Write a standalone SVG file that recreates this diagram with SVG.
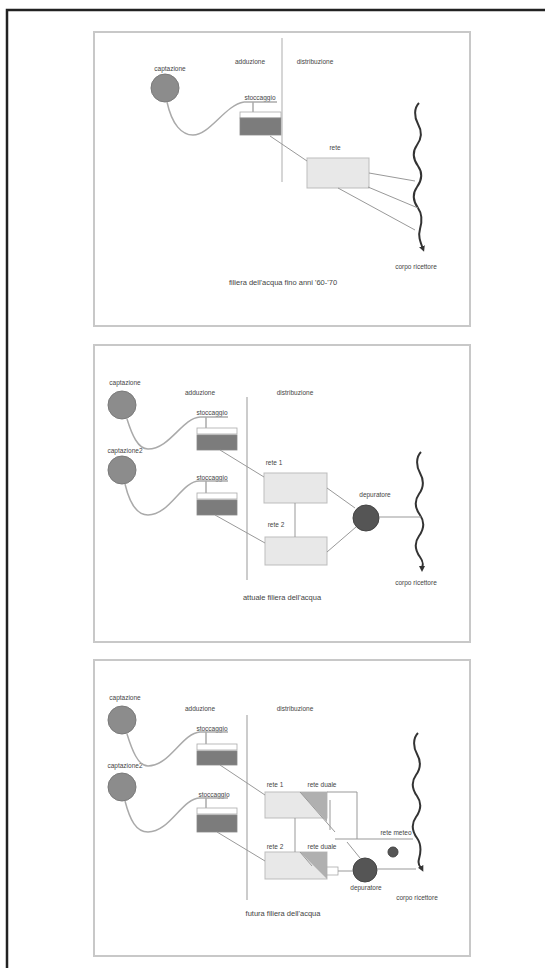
<svg xmlns="http://www.w3.org/2000/svg" width="552" height="974" viewBox="0 0 552 974">
<defs>
<marker id="ah" markerWidth="6" markerHeight="6" refX="3" refY="3" orient="auto" markerUnits="userSpaceOnUse"><path d="M0,0 L6,3 L0,6 z" fill="#333"/></marker>
<style>
.panel{fill:#fff;stroke:#c8c8c8;stroke-width:2}
.t{font-family:"Liberation Sans",Arial,sans-serif;font-size:6.5px;fill:#444;text-anchor:middle}
.tb{font-family:"Liberation Sans",Arial,sans-serif;font-size:7.5px;fill:#444;text-anchor:middle}
.cap{fill:#8c8c8c;stroke:#7a7a7a;stroke-width:1}
.sto{fill:#7c7c7c;stroke:#888;stroke-width:0.8}
.strip{fill:#fff;stroke:#aaa;stroke-width:0.8}
.rete{fill:#e8e8e8;stroke:#bdbdbd;stroke-width:1}
.dep{fill:#555;stroke:#444;stroke-width:1}
.pipe{fill:none;stroke:#aaa;stroke-width:1.5}
.ln{fill:none;stroke:#999;stroke-width:1}
.vl{fill:none;stroke:#bbb;stroke-width:1.2}
.river{fill:none;stroke:#333;stroke-width:2;marker-end:url(#ah)}
</style>
</defs>
<rect width="552" height="974" fill="#fff"/>
<path d="M7,968 V10 H545" fill="none" stroke="#222" stroke-width="2.5"/>

<g id="panel1">
<rect class="panel" x="94" y="32" width="376" height="294"/>
<g id="p1-captazione"><text class="t" x="170" y="71">captazione</text><circle class="cap" cx="165" cy="88" r="14"/></g>
<text class="t" x="250" y="64">adduzione</text>
<text class="t" x="315" y="64">distribuzione</text>
<g id="p1-stoccaggio"><text class="t" x="260" y="100">stoccaggio</text><rect class="strip" x="240" y="112" width="41" height="6"/><rect class="sto" x="240" y="118" width="41" height="17"/></g>
<g id="p1-rete"><text class="t" x="335" y="150">rete</text><rect class="rete" x="307" y="158" width="62" height="30"/></g>
<g id="p1-river"><path class="river" d="M419,103 c-5,5 -5,14 -1,21 s4,14 -1,21 s-4,14 1,21 s4,14 -1,21 s-4,14 1,21 s4,14 2,21 s0,12 3,20"/><text class="t" x="416" y="269">corpo ricettore</text></g>
<text class="tb" x="283" y="285">filiera dell'acqua fino anni '60-'70</text>
</g>

<g id="panel2">
<rect class="panel" x="94" y="345" width="376" height="297"/>
<g id="p2-cap1"><text class="t" x="125" y="385">captazione</text><circle class="cap" cx="122" cy="405" r="14"/></g>
<g id="p2-cap2"><text class="t" x="125" y="453">captazione2</text><circle class="cap" cx="122" cy="470" r="14"/></g>
<text class="t" x="200" y="395">adduzione</text>
<text class="t" x="295" y="395">distribuzione</text>
<g id="p2-sto1"><text class="t" x="212" y="415">stoccaggio</text><rect class="strip" x="197" y="428" width="40" height="6"/><rect class="sto" x="197" y="435" width="40" height="15"/></g>
<g id="p2-sto2"><text class="t" x="212" y="480">stoccaggio</text><rect class="strip" x="197" y="493" width="40" height="6"/><rect class="sto" x="197" y="500" width="40" height="15"/></g>
<g id="p2-rete1"><text class="t" x="274" y="465">rete 1</text><rect class="rete" x="264" y="473" width="63" height="30"/></g>
<g id="p2-rete2"><text class="t" x="276" y="527">rete 2</text><rect class="rete" x="265" y="537" width="62" height="28"/></g>
<g id="p2-dep"><text class="t" x="375" y="497">depuratore</text><circle class="dep" cx="366" cy="518" r="13"/></g>
<g id="p2-river"><path class="river" d="M421,452 c-5,5 -5,14 -1,21 s4,14 -1,21 s-4,14 1,21 s4,14 -1,21 s-4,14 1,21 s2,8 2,12"/><text class="t" x="416" y="585">corpo ricettore</text></g>
<text class="tb" x="282" y="600">attuale filiera dell'acqua</text>
</g>

<g id="panel3">
<rect class="panel" x="94" y="660" width="376" height="296"/>
<g id="p3-cap1"><text class="t" x="125" y="700">captazione</text><circle class="cap" cx="122" cy="720" r="14"/></g>
<g id="p3-cap2"><text class="t" x="125" y="768">captazione2</text><circle class="cap" cx="122" cy="787" r="14"/></g>
<text class="t" x="200" y="711">adduzione</text>
<text class="t" x="295" y="711">distribuzione</text>
<g id="p3-sto1"><text class="t" x="212" y="731">stoccaggio</text><rect class="strip" x="197" y="744" width="40" height="6"/><rect class="sto" x="197" y="751" width="40" height="14"/></g>
<g id="p3-sto2"><text class="t" x="214" y="797">stoccaggio</text><rect class="strip" x="197" y="808" width="40" height="6"/><rect class="sto" x="197" y="815" width="40" height="17"/></g>
<g id="p3-rete1"><text class="t" x="275" y="787">rete 1</text><text class="t" x="322" y="787">rete duale</text><rect class="rete" x="265" y="792" width="62" height="26"/><path d="M300,792 H327 V822 z" fill="#b0b0b0"/></g>
<g id="p3-rete2"><text class="t" x="275" y="849">rete 2</text><text class="t" x="322" y="849">rete duale</text><rect class="rete" x="265" y="852" width="62" height="27"/><path d="M300,852 H327 V879 z" fill="#b0b0b0"/><rect class="strip" x="327" y="867" width="11" height="8"/></g>
<g id="p3-dep"><text class="t" x="366" y="890">depuratore</text><circle class="dep" cx="365" cy="870" r="12"/></g>
<g id="p3-meteo"><text class="t" x="396" y="835">rete meteo</text><circle class="dep" cx="393" cy="852" r="5"/></g>
<g id="p3-river"><path class="river" d="M418,733 c-5,5 -5,14 -1,21 s4,14 -1,21 s-4,14 1,21 s4,14 -1,21 s-4,14 1,21 s4,14 2,21 s2,8 3,10"/><text class="t" x="417" y="900">corpo ricettore</text></g>
<text class="tb" x="283" y="916">futura filiera dell'acqua</text>
</g>

<g id="connectors">
<path class="vl" d="M282,38 V182"/>
<path class="pipe" d="M167,102 C172,125 182,135 193,135 C210,135 225,105 244,102 M244,102 H277 M253,102 V112"/>
<path class="ln" d="M270,136 L307,161"/>
<path class="ln" d="M369,173 L415,181 M368,187 L418,208 M338,188 L415,230"/>

<path class="vl" d="M247,397 V580" style="stroke:#aaa"/>
<path class="pipe" d="M127,419 C132,435 138,449 148,449 C170,449 182,418 200,417 H228 M206,417 V428"/>
<path class="pipe" d="M125,484 C130,505 138,515 148,515 C170,515 182,480 200,481 H228 M206,481 V493"/>
<path class="ln" d="M220,450 L264,477 M215,515 L265,543 M295,503 V537 M327,488 L355,508 M327,552 L356,527 M379,517 H421"/>

<path class="vl" d="M247,715 V900" style="stroke:#aaa"/>
<path class="pipe" d="M127,734 C132,750 138,766 148,766 C170,766 182,733 200,732 H228 M206,732 V744"/>
<path class="pipe" d="M125,801 C130,820 136,832 148,832 C170,832 182,798 200,798 H228 M206,798 V808"/>
<path class="ln" d="M220,765 L265,795 M217,832 L265,861 M295,818 V852"/>
<path class="ln" d="M300,792 L335,832 M300,852 L312,866"/>
<path class="ln" d="M327,792 H357 V839 M330,800 V830 M335,839 H413 M347,842 L360,858"/>
<path class="ln" d="M338,871 H353 M377,869 H416"/>
</g>
</svg>
